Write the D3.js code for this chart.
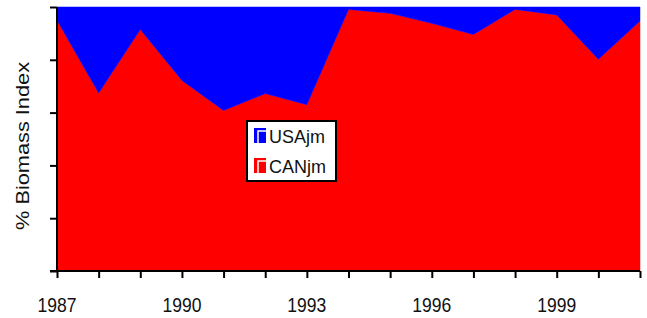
<!DOCTYPE html>
<html>
<head>
<meta charset="utf-8">
<script src="https://cdn.jsdelivr.net/npm/d3@7"></script>
<style>
  body { margin: 0; background: white; }
  text { font-family: "Liberation Sans", Arial, sans-serif; fill: #111; }
</style>
</head>
<body>
<div id="chart"></div>
<script>
const years = [1987, 1988, 1989, 1990, 1991, 1992, 1993, 1994, 1995, 1996, 1997, 1998, 1999, 2000, 2001];
const canShare = [95, 67.4, 91.5, 72.2, 60.8, 67.2, 63, 99.1, 97.6, 93.8, 89.6, 99.1, 97, 80.2, 94.7];
const usaShare = [5, 32.6, 8.5, 27.8, 39.2, 32.8, 37, 0.9, 2.4, 6.2, 10.4, 0.9, 3, 19.8, 5.3];
const tickYears = [1987, 1990, 1993, 1996, 1999];
const seriesNames = ["CANjm", "USAjm"];

const w = 647;
const h = 318;
const padLeft = 57, padRight = 640, padTop = 7, padBottom = 271;

const table = years.map((y, i) => ({ year: y, CANjm: canShare[i], USAjm: usaShare[i] }));
const stacked = d3.stack().keys(seriesNames).offset(d3.stackOffsetExpand)(table);

const x = d3.scaleLinear().domain([1987, 2001]).range([padLeft, padRight]);
const y = d3.scaleLinear().domain([0, 1]).range([padBottom, padTop]);
const colors = { CANjm: "#ff0000", USAjm: "#0000ff" };

const svg = d3.select("#chart").append("svg")
  .attr("width", w)
  .attr("height", h);

const area = d3.area()
  .x(d => x(d.data.year))
  .y0(d => y(d[0]))
  .y1(d => y(d[1]));

svg.selectAll("path.layer")
  .data(stacked)
  .enter()
  .append("path")
  .attr("class", "layer")
  .attr("d", area)
  .attr("fill", d => colors[d.key])
  .attr("stroke", d => colors[d.key])
  .attr("stroke-width", 0.5);

// axes
const xAxis = d3.axisBottom(x).tickValues(years).tickSize(7).tickFormat("");
svg.append("g")
  .attr("transform", "translate(0," + padBottom + ")")
  .call(xAxis)
  .call(g => g.selectAll("path, line").attr("stroke", "#000").attr("stroke-width", 2))
  .call(g => g.select(".domain").attr("d", "M" + (padLeft - 7) + ",0H" + padRight));

svg.selectAll("text.xlab")
  .data(tickYears)
  .enter()
  .append("text")
  .attr("class", "xlab")
  .attr("x", d => x(d))
  .attr("y", 311.5)
  .attr("text-anchor", "middle")
  .attr("textLength", 39)
  .attr("lengthAdjust", "spacingAndGlyphs")
  .style("font-size", "19.5px")
  .text(d => d);

const yAxis = d3.axisLeft(y).ticks(5).tickSize(7).tickFormat("");
svg.append("g")
  .attr("transform", "translate(" + padLeft + ",0)")
  .call(yAxis)
  .call(g => g.selectAll("path, line").attr("stroke", "#000").attr("stroke-width", 2))
  .call(g => g.select(".domain").attr("d", "M0," + padTop + "V" + padBottom));

svg.append("text")
  .attr("transform", "translate(29,146) rotate(-90)")
  .attr("text-anchor", "middle")
  .attr("textLength", 168)
  .attr("lengthAdjust", "spacingAndGlyphs")
  .style("font-size", "18px")
  .text("% Biomass Index");

// legend
const legend = svg.append("g");
legend.append("rect")
  .attr("x", 247).attr("y", 121)
  .attr("width", 89).attr("height", 60)
  .attr("fill", "white")
  .attr("stroke", "#000")
  .attr("stroke-width", 2);

const legendItems = ["USAjm", "CANjm"];
legendItems.forEach((name, i) => {
  const yy = 128 + i * 30;
  legend.append("rect")
    .attr("x", 254).attr("y", yy)
    .attr("width", 12).attr("height", 15)
    .attr("fill", colors[name]);
  legend.append("path")
    .attr("d", "M258," + (yy + 15) + "V" + (yy + 3) + "H266")
    .attr("fill", "none")
    .attr("stroke", "white")
    .attr("stroke-width", 1.5);
  legend.append("text")
    .attr("x", 269)
    .attr("y", yy + 15)
    .style("font-size", "18px")
    .text(name);
});
</script>
</body>
</html>
